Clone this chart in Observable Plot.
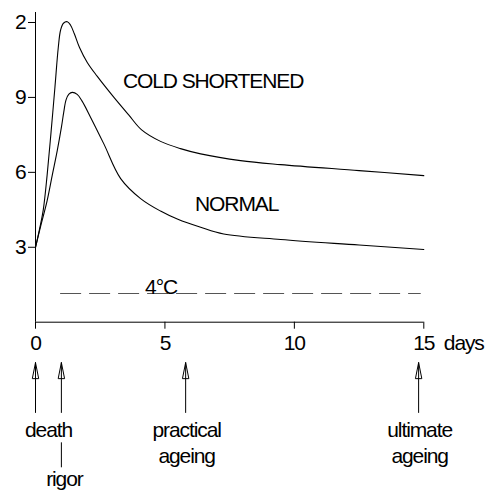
<!DOCTYPE html>
<html>
<head>
<meta charset="utf-8">
<script src="https://cdn.jsdelivr.net/npm/d3@7"></script>
<script src="https://cdn.jsdelivr.net/npm/@observablehq/plot@0.6"></script>
<style>
  html, body { margin: 0; padding: 0; background: white; }
  #chart { width: 486px; height: 490px; }
</style>
</head>
<body>
<div id="chart"></div>
<script>
// ---- data ----
const coldDay = [0, 0.15, 0.3, 0.45, 0.6, 0.75, 0.88, 0.97, 1.08, 1.23, 1.35, 1.5, 1.7, 2.0, 2.38, 3.03, 3.6, 4.1, 4.83, 5.6, 6.38, 7.92, 9.47, 12.5, 15.0];
const coldVal = [3, 3.7, 4.5, 5.9, 7.6, 9.4, 11.0, 11.7, 11.97, 12.03, 11.9, 11.55, 11.0, 10.4, 9.85, 9.0, 8.3, 7.7, 7.24, 6.95, 6.74, 6.47, 6.31, 6.07, 5.87];

const normalDay = [0, 0.2, 0.45, 0.65, 0.84, 1.0, 1.09, 1.18, 1.29, 1.42, 1.61, 1.8, 2.13, 2.64, 3.29, 4.06, 4.83, 5.5, 6.38, 7.27, 9.47, 12.5, 15.0];
const normalVal = [3, 3.85, 4.87, 5.9, 6.87, 7.8, 8.4, 8.9, 9.13, 9.2, 9.12, 8.85, 8.2, 7.14, 5.75, 4.95, 4.45, 4.12, 3.8, 3.53, 3.31, 3.09, 2.91];

const tempDay = [0.97, 14.9];       // dashed 4°C line extent
const tempVal = 1.15;
const tempLabel = "4°C";
const tempLabelDay = 4.85;

const curveLabels = ["COLD SHORTENED", "NORMAL"];
const curveLabelDay = [6.86, 7.77];
const curveLabelVal = [9.65, 4.71];

const xTicks = [0, 5, 10, 15];
const xUnit = "days";
const yTicks = [3, 6, 9, 12];
const yTickLabels = ["3", "6", "9", "2"];

const eventDay = [0, 1, 5.8, 14.8];
const eventLabel = ["death", "rigor", "practical\nageing", "ultimate\nageing"];

// ---- build tables ----
const cold = coldDay.map((d, i) => ({day: d, v: coldVal[i]}));
const normal = normalDay.map((d, i) => ({day: d, v: normalVal[i]}));

// narrow open arrowhead pointing up
const arrowHead = {
  draw(ctx) {
    ctx.moveTo(0, -8);
    ctx.lineTo(3.2, 8);
    ctx.lineTo(-3.2, 8);
    ctx.closePath();
  }
};

const Y_TIP = -1.62, Y_HEAD = -1.94, Y_SHAFT_END = -3.65;
const Y_LINE1 = -4.61, Y_LINE2 = -5.65;

const chart = Plot.plot({
  width: 486,
  height: 490,
  marginLeft: 35,
  marginRight: 62.7,
  marginTop: 12,
  marginBottom: 168.3,
  x: {domain: [0, 15]},
  y: {domain: [0, 12.4]},
  style: {
    fontFamily: "'Liberation Sans', Arial, sans-serif",
    fontSize: "21px",
    letterSpacing: "-1.1px",
    color: "black",
    background: "white",
    overflow: "visible"
  },
  marks: [
    // axes
    Plot.ruleX([0], {y1: 0, y2: 12.4, stroke: "black", strokeWidth: 1}),
    Plot.ruleY([0], {x1: 0, x2: 15, stroke: "black", strokeWidth: 1}),
    Plot.axisX({ticks: xTicks, tickSize: 7, tickPadding: 6, tickFormat: d => String(d), label: null}),
    Plot.axisY({ticks: yTicks, tickSize: 7, tickPadding: 3, tickFormat: d => yTickLabels[yTicks.indexOf(d)], label: null}),
    Plot.text([xUnit], {x: xTicks[xTicks.length - 1], y: 0, dx: 20, dy: 21.5, textAnchor: "start", lineAnchor: "middle"}),

    // dashed 4°C line
    Plot.ruleY([tempVal], {x1: tempDay[0], x2: tempDay[1], stroke: "#555", strokeWidth: 1.2, strokeDasharray: "21,8"}),
    Plot.text([tempLabel], {x: tempLabelDay, y: tempVal, lineAnchor: "bottom", dy: 1}),

    // curves
    Plot.line(cold, {x: "day", y: "v", curve: "catmull-rom", stroke: "black", strokeWidth: 1.1}),
    Plot.line(normal, {x: "day", y: "v", curve: "catmull-rom", stroke: "black", strokeWidth: 1.1}),
    Plot.text(curveLabels, {x: (d, i) => curveLabelDay[i], y: (d, i) => curveLabelVal[i], lineAnchor: "middle"}),

    // event arrows below the axis
    Plot.ruleX(eventDay, {y1: Y_TIP, y2: Y_SHAFT_END, stroke: "black", strokeWidth: 1}),
    Plot.dot(eventDay, {x: d => d, y: Y_HEAD, symbol: arrowHead, fill: "none", stroke: "black", strokeWidth: 1}),
    Plot.ruleX([eventDay[1]], {y1: -4.83, y2: -5.83, stroke: "black", strokeWidth: 1}),
    Plot.text([eventLabel[0]], {x: eventDay[0], y: Y_LINE1, dx: 13, lineAnchor: "bottom"}),
    Plot.text([eventLabel[1]], {x: eventDay[1], y: -6.57, dx: 3, lineAnchor: "bottom"}),
    Plot.text([eventLabel[2]], {x: eventDay[2], y: Y_LINE2, dx: 1, lineAnchor: "bottom", lineHeight: 1.24}),
    Plot.text([eventLabel[3]], {x: eventDay[3], y: Y_LINE2, dx: 1, lineAnchor: "bottom", lineHeight: 1.24})
  ]
});

document.getElementById("chart").append(chart);
</script>
</body>
</html>
